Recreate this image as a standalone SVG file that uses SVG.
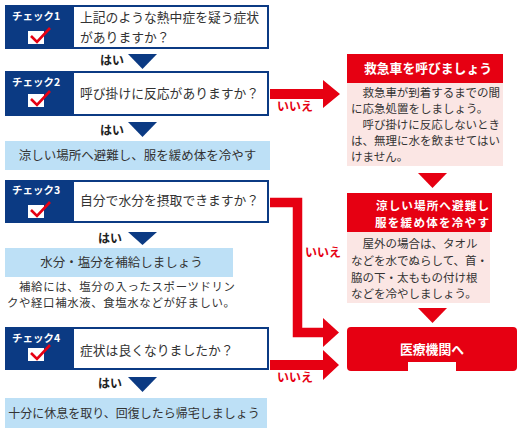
<svg xmlns="http://www.w3.org/2000/svg" width="518" height="436" viewBox="0 0 518 436">
<style>
.nv{fill:#0b3a83}
.wb{fill:#fff}
.q{font-family:"Noto Sans CJK JP","Noto Sans",sans-serif;font-size:12.8px;fill:#333}
.lb{font-family:"Noto Sans CJK JP","Noto Sans",sans-serif;font-size:10.5px;font-weight:bold;fill:#fff}
.hai{font-family:"Noto Sans CJK JP","Noto Sans",sans-serif;font-size:12px;font-weight:bold;fill:#222}
.iie{font-family:"Noto Sans CJK JP","Noto Sans",sans-serif;font-size:12px;font-weight:bold;fill:#e60012}
.lbl{fill:#bde0f6}
.pk{fill:#fbe6e4}
.rd{fill:#e60012}
.rt{font-family:"Noto Sans CJK JP","Noto Sans",sans-serif;font-size:11.5px;fill:#333}
.ht{font-family:"Noto Sans CJK JP","Noto Sans",sans-serif;font-size:12.8px;font-weight:bold;fill:#fff}
.t{font-family:"Noto Sans CJK JP","Noto Sans",sans-serif;font-size:12.5px;fill:#333}
</style>
<defs>
<g id="chk"><rect x="0" y="0" width="16" height="13" fill="#fff"/><path d="M3,5 L9,11 L22,-3" fill="none" stroke="#e60012" stroke-width="2.6"/></g>
</defs>
<g id="connectors">
<path class="rd" d="M270,89 H323 V80 L340,94 L323,108 V99 H270 Z"/>
<path d="M270,202.5 H297.5 V332.5 H324" fill="none" stroke="#e60012" stroke-width="9.5"/>
<path class="rd" d="M323,318 L339,332.5 L323,347 Z"/>
<path class="rd" d="M270,360 H323 V350 L339,365 L323,380 V370 H270 Z"/>
<text class="iie" x="277" y="111">いいえ</text>
<text class="iie" x="305" y="257">いいえ</text>
<text class="iie" x="277" y="382">いいえ</text>
<polygon class="nv" points="128,54 157,54 142.5,69"/>
<text class="hai" x="100" y="65">はい</text>
<polygon class="nv" points="128,122 157,122 142.5,137"/>
<text class="hai" x="100" y="135">はい</text>
<polygon class="nv" points="128,232 157,232 142.5,245"/>
<text class="hai" x="98" y="243">はい</text>
<polygon class="nv" points="128,377 157,377 142.5,392"/>
<text class="hai" x="98" y="388">はい</text>
<polygon class="rd" points="418,173 447,173 432.5,188"/>
<polygon class="rd" points="418,308 447,308 432.5,323"/>
</g>
<g id="check1">
<rect class="nv" x="5" y="5" width="264" height="44"/>
<rect class="wb" x="74" y="7" width="193" height="40"/>
<text class="lb" x="12" y="20">チェック1</text>
<use href="#chk" x="28" y="31"/>
<text class="q" x="80" y="22">上記のような熱中症を疑う症状</text>
<text class="q" x="80" y="42">がありますか？</text>
</g>
<g id="check2">
<rect class="nv" x="5" y="71" width="264" height="45"/>
<rect class="wb" x="74" y="73" width="193" height="41"/>
<text class="lb" x="12" y="86">チェック2</text>
<use href="#chk" x="28" y="94"/>
<text class="q" x="80" y="98">呼び掛けに反応がありますか？</text>
</g>
<g id="cool1">
<rect class="lbl" x="5" y="141" width="265" height="29"/>
<text class="t" x="137.5" y="160" text-anchor="middle">涼しい場所へ避難し、服を緩め体を冷やす</text>
</g>
<g id="check3">
<rect class="nv" x="5" y="180" width="264" height="43"/>
<rect class="wb" x="74" y="182" width="193" height="39"/>
<text class="lb" x="12" y="194">チェック3</text>
<use href="#chk" x="28" y="205"/>
<text class="q" x="80" y="205">自分で水分を摂取できますか？</text>
</g>
<g id="water">
<rect class="lbl" x="5" y="248" width="228" height="29"/>
<text class="t" x="121.5" y="267" text-anchor="middle">水分・塩分を補給しましょう</text>
<text class="t" x="7" y="291" style="font-size:11.4px" textLength="228" lengthAdjust="spacing">　補給には、塩分の入ったスポーツドリン</text>
<text class="t" x="7" y="307" style="font-size:11.4px" textLength="228" lengthAdjust="spacing">クや経口補水液、食塩水などが好ましい。</text>
</g>
<g id="check4">
<rect class="nv" x="5" y="327" width="264" height="43"/>
<rect class="wb" x="74" y="329" width="193" height="39"/>
<text class="lb" x="12" y="342">チェック4</text>
<use href="#chk" x="28" y="348"/>
<text class="q" x="80" y="355">症状は良くなりましたか？</text>
</g>
<g id="home">
<rect class="lbl" x="5" y="398" width="262" height="30"/>
<text class="t" x="134" y="418" text-anchor="middle" style="font-size:12px">十分に休息を取り、回復したら帰宅しましょう</text>
</g>
<g id="ambulance">
<rect class="rd" x="347" y="54" width="156" height="29"/>
<text class="ht" x="428" y="73" text-anchor="middle">救急車を呼びましょう</text>
<rect class="pk" x="347" y="83" width="156" height="83"/>
<text class="rt" x="351" y="97" textLength="149" lengthAdjust="spacing">　救急車が到着するまでの間</text>
<text class="rt" x="351" y="113">に応急処置をしましょう。</text>
<text class="rt" x="351" y="129" textLength="149" lengthAdjust="spacing">　呼び掛けに反応しないとき</text>
<text class="rt" x="351" y="145" textLength="149" lengthAdjust="spacing">は、無理に水を飲ませてはい</text>
<text class="rt" x="351" y="161">けません。</text>
</g>
<g id="cool2">
<rect class="rd" x="347" y="193" width="145" height="39"/>
<text class="ht" x="489" y="210" text-anchor="end" style="font-size:11.6px" textLength="113" lengthAdjust="spacing">涼しい場所へ避難し</text>
<text class="ht" x="489" y="227" text-anchor="end" style="font-size:11.6px" textLength="114" lengthAdjust="spacing">服を緩め体を冷やす</text>
<rect class="pk" x="347" y="232" width="143" height="71"/>
<text class="rt" x="351" y="248">　屋外の場合は、タオル</text>
<text class="rt" x="351" y="265">などを水でぬらして、首・</text>
<text class="rt" x="351" y="282">脇の下・太ももの付け根</text>
<text class="rt" x="351" y="298">などを冷やしましょう。</text>
</g>
<g id="hospital">
<rect class="rd" x="347" y="327" width="170" height="44" rx="4"/>
<rect class="wb" x="408" y="362" width="48" height="9"/>
<text class="ht" x="432" y="354" text-anchor="middle">医療機関へ</text>
</g>
</svg>
